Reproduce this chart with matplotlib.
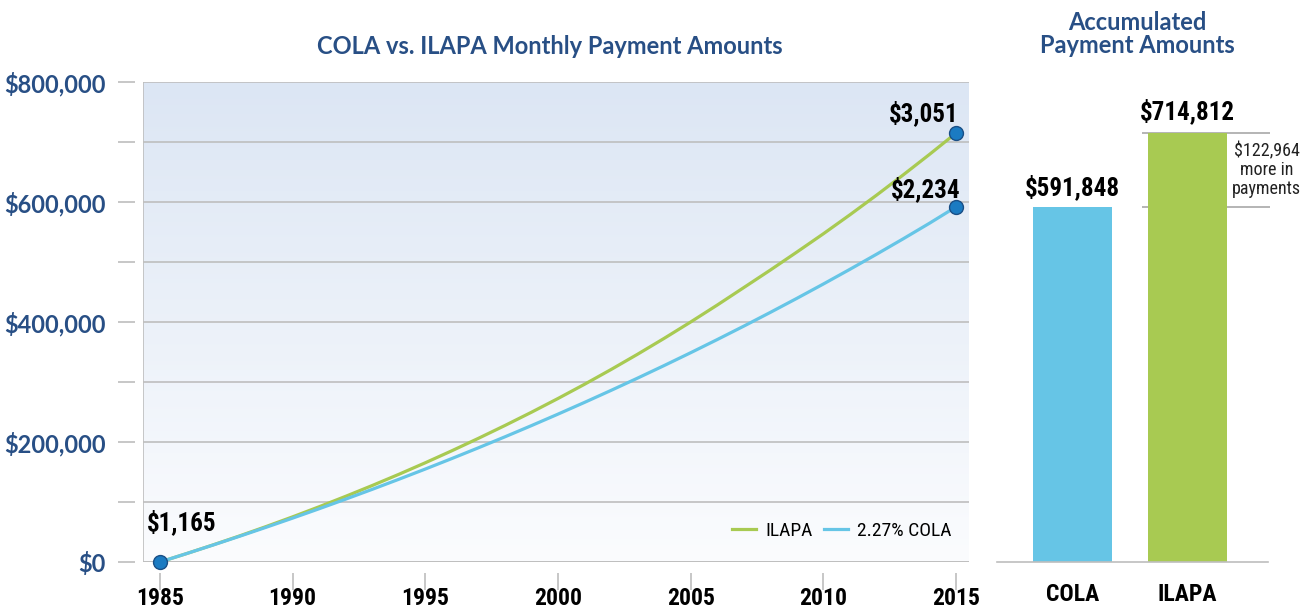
import os
import matplotlib
matplotlib.use('Agg')
import matplotlib.pyplot as plt
from matplotlib import font_manager as fm
import numpy as np

# data
years = list(range(1985, 2016))
cola = [0, 13980, 28280, 42900, 57850, 73140, 88780, 104770, 121120, 137840,
        154940, 172430, 190320, 208610, 227320, 246450, 266010, 286020, 306480,
        327400, 348800, 370680, 393060, 415950, 439350, 463290, 487770, 512800,
        538400, 564580, 591848]
ilapa = [0, 14000, 28500, 43500, 59100, 75300, 92100, 109500, 127500, 146100,
         165400, 185400, 206100, 227500, 249600, 272500, 296200, 320800, 346300,
         372700, 400000, 428200, 457300, 486500, 516500, 547000, 578600, 611200,
         644800, 679300, 714812]
bar_names = ['COLA', 'ILAPA']
bar_totals = [591848, 714812]
point_labels = ['$1,165', '$3,051', '$2,234']
yticks = list(range(0, 800001, 100000))
ylabels = ['$0', '', '$200,000', '', '$400,000', '', '$600,000', '', '$800,000']
xticks = [1985, 1990, 1995, 2000, 2005, 2010, 2015]

GREEN = '#a8ca52'
BLUE = '#66c5e6'
NAVY = '#284f85'
GRID = '#bebebe'

# look for any narrow / condensed face installed
files = [f.fname for f in fm.fontManager.ttflist]
order = ['liberation', 'roboto', 'opensans', 'open', 'noto', 'dejavu', '']


def find_narrow(bold):
    hits = []
    for fn in files:
        b = os.path.basename(fn).lower()
        if not ('condensed' in b or 'narrow' in b):
            continue
        if 'italic' in b or 'oblique' in b or 'semi' in b or 'extra' in b or 'light' in b \
                or 'medium' in b or 'black' in b or 'thin' in b:
            continue
        if bold != ('bold' in b):
            continue
        hits.append(fn)
    for key in order:
        for fn in hits:
            if key in os.path.basename(fn).lower():
                return fn
    return None


NB_FILE = find_narrow(True)
NR_FILE = find_narrow(False)
SHRINK = 1.0 if NB_FILE else 0.82


def narrow_bold(size):
    if NB_FILE:
        return fm.FontProperties(fname=NB_FILE, size=size)
    return fm.FontProperties(family=['Roboto', 'DejaVu Sans'], weight='bold',
                             size=size * SHRINK)


def narrow(size):
    if NR_FILE:
        return fm.FontProperties(fname=NR_FILE, size=size)
    return fm.FontProperties(family=['Roboto', 'DejaVu Sans'], size=size * (1.0 if NB_FILE else 0.85))


def heading(size):
    return fm.FontProperties(family=['Lato', 'DejaVu Sans'], weight='bold', size=size)


fig = plt.figure(figsize=(13.07, 6.14), dpi=100)
W, H = 1307, 614
ax = fig.add_axes([143 / W, 1 - 562 / H, (969 - 143) / W, (562 - 82) / H])
ax2 = fig.add_axes([997 / W, 1 - 562 / H, (1268 - 997) / W, (562 - 82) / H])

# gradient background
grad = np.linspace(0, 1, 256).reshape(-1, 1)
top = np.array([220, 230, 244]) / 255
bot = np.array([251, 252, 254]) / 255
img = bot + (top - bot) * grad[..., None] * np.ones((1, 1, 3))
ax.imshow(img, extent=[0, 1, 0, 1], transform=ax.transAxes, origin='lower',
          aspect='auto', zorder=0)

ax.plot(years, ilapa, color=GREEN, lw=2.3, label='ILAPA', zorder=3)
ax.plot(years, cola, color=BLUE, lw=2.3, label='2.27% COLA', zorder=3)
ax.plot([years[0], years[-1], years[-1]], [cola[0], ilapa[-1], cola[-1]], 'o',
        ms=10, mfc='#1b7bc2', mec='#1a4f86', mew=1, zorder=5, clip_on=False)

ax.set_xlim(1984.36, 2015.49)
ax.set_ylim(0, 800000)
ax.set_yticks(yticks)
ax.set_yticklabels(ylabels)
ax.set_xticks(xticks)
ax.set_xticklabels([str(x) for x in xticks])
ax.grid(axis='y', color=GRID, lw=1.2)
ax.set_axisbelow(True)
ax.axhline(0, color=GRID, lw=1.2, zorder=1)

for s in ['top', 'right']:
    ax.spines[s].set_visible(False)
ax.spines['left'].set_position(('outward', 6))
ax.spines['bottom'].set_position(('outward', 8))
ax.spines['left'].set_visible(False)
ax.spines['bottom'].set_visible(False)
ax.axvline(1984.36, color=GRID, lw=1.2, zorder=1)
ax.tick_params(axis='y', length=12, width=1.2, color=GRID, pad=9)
ax.tick_params(axis='x', length=12, width=1.2, color=GRID, pad=-2)
for lab in ax.get_yticklabels():
    lab.set_fontproperties(heading(17))
    lab.set_color(NAVY)
for lab in ax.get_xticklabels():
    lab.set_fontproperties(narrow_bold(17))

ax.annotate(point_labels[0], (years[0], cola[0]), xytext=(-13, 40),
            textcoords='offset pixels', ha='left', va='center',
            fontproperties=narrow_bold(18))
ax.annotate(point_labels[1], (years[-1], ilapa[-1]), xytext=(3, 20),
            textcoords='offset pixels', ha='right', va='center',
            fontproperties=narrow_bold(18))
ax.annotate(point_labels[2], (years[-1], cola[-1]), xytext=(5, 18),
            textcoords='offset pixels', ha='right', va='center',
            fontproperties=narrow_bold(18))

ax.legend(loc='center right', bbox_to_anchor=(1.0, 0.065), ncol=2, frameon=False,
          prop=narrow(14), handlelength=1.25, handletextpad=0.45, columnspacing=0.6)

# bars
ax2.bar([0, 1], bar_totals, width=0.687, color=[BLUE, GREEN], zorder=2)
ax2.set_xlim(-0.657, 1.70)
ax2.set_ylim(0, 800000)
ax2.set_yticks([])
ax2.set_xticks([0, 1])
ax2.set_xticklabels(bar_names)
ax2.tick_params(axis='x', length=0, pad=15)
for lab in ax2.get_xticklabels():
    lab.set_fontproperties(narrow_bold(17))
for s in ['top', 'right', 'left']:
    ax2.spines[s].set_visible(False)
ax2.spines['bottom'].set_color(GRID)
ax2.spines['bottom'].set_linewidth(1.2)
ax2.hlines(bar_totals, 0.6, 1.72, color='#a8a8a8', lw=1.2, zorder=1, clip_on=False)
ax2.annotate('$' + format(bar_totals[0], ','), (0, bar_totals[0]), xytext=(0, 7),
             textcoords='offset pixels', ha='center', va='bottom',
             fontproperties=narrow_bold(18))
ax2.annotate('$' + format(bar_totals[1], ','), (1, bar_totals[1]), xytext=(0, 9),
             textcoords='offset pixels', ha='center', va='bottom',
             fontproperties=narrow_bold(18))
diff = bar_totals[1] - bar_totals[0]
ax2.text(1.69, (bar_totals[0] + bar_totals[1]) / 2,
         '$' + format(diff, ',') + '\nmore in\npayments', ha='center', va='center',
         multialignment='center', linespacing=1.05, fontproperties=narrow(13),
         color='#222222')

fig.text(550 / W, 1 - 47 / H, 'COLA vs. ILAPA Monthly Payment Amounts',
         ha='center', va='center', color=NAVY, fontproperties=heading(17))
fig.text(1137 / W, 1 - 34 / H, 'Accumulated\nPayment Amounts', ha='center',
         va='center', color=NAVY, linespacing=1.0, fontproperties=heading(17))

fig.savefig('out.png', dpi=100)
